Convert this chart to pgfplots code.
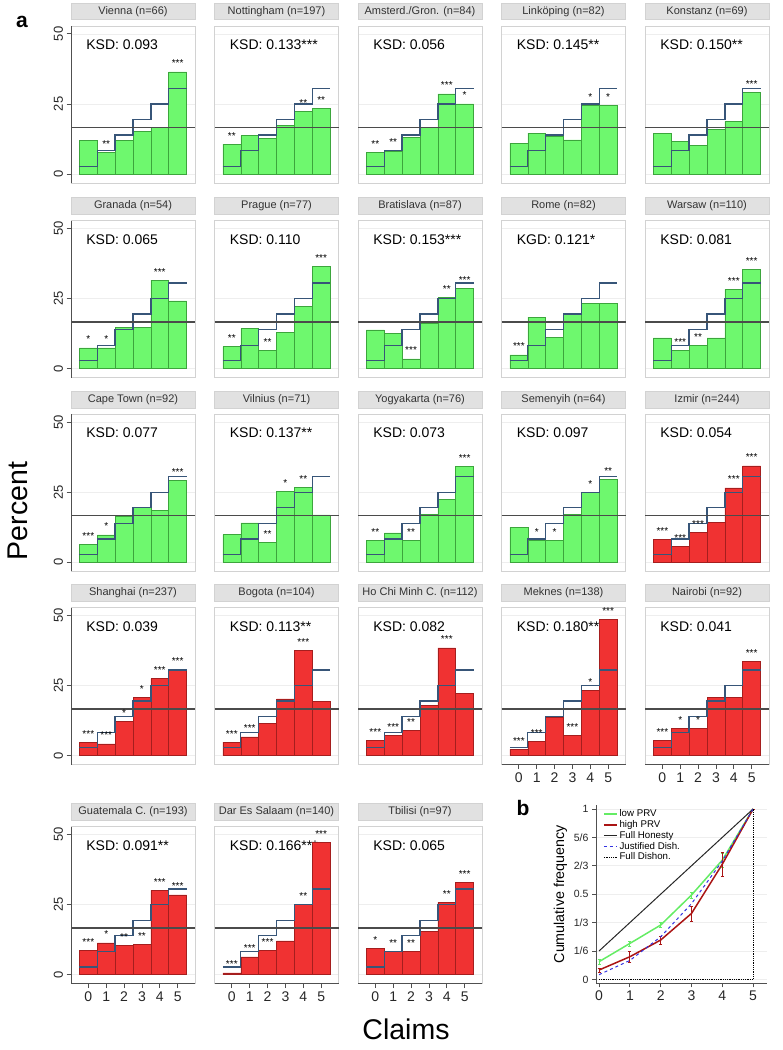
\documentclass[border=0pt]{standalone}
\usepackage{fontspec}
\setmainfont{Liberation Sans}
\usepackage{pgfplots}
\pgfplotsset{compat=1.18}

\definecolor{barg}{RGB}{110,248,110}
\definecolor{bargdark}{RGB}{60,165,60}
\definecolor{barr}{RGB}{240,50,50}
\definecolor{barrdark}{RGB}{165,30,30}
\definecolor{stepc}{RGB}{55,85,120}
\definecolor{refc}{RGB}{75,75,75}
\definecolor{framec}{RGB}{210,210,210}
\definecolor{stripc}{RGB}{225,225,225}
\definecolor{gridc}{RGB}{238,238,238}
\definecolor{darkaxis}{RGB}{80,80,80}
\definecolor{lowg}{RGB}{100,236,100}
\definecolor{highr}{RGB}{170,20,20}
\definecolor{jdblue}{RGB}{50,50,225}

\pgfplotsset{
  panel/.style={
    scale only axis, width=124pt, height=157pt, anchor=north west,
    xmin=-0.97, xmax=5.97, ymin=-3.2, ymax=52.8,
    clip=false,
    axis line style={draw=framec, line width=0.8pt},
    xtick=\empty, ytick={0,25,50}, yticklabels={},
    ymajorgrids, major grid style={gridc, line width=0.6pt},
    ytick style={draw=none}, tick align=outside, tick pos=left, major tick length=4.5pt,
    title style={at={(0.5,1)}, anchor=south, yshift=0pt, fill=stripc, draw=framec,
      line width=0.8pt, minimum width=124pt, minimum height=16.5pt, inner sep=0pt,
      text=black!80, font=\fontsize{11}{12}\selectfont},
  },
  leftcol/.style={
    yticklabels={0,25,50},
    ytick style={draw=darkaxis, line width=0.8pt},
    yticklabel style={rotate=90, anchor=south, font=\fontsize{13}{13}\selectfont, text=black!85},
    after end axis/.append code={\draw[darkaxis, line width=1pt] (rel axis cs:0,0) -- (rel axis cs:0,1);},
  },
  bottomrow/.style={
    xtick={0,1,2,3,4,5}, xticklabels={0,1,2,3,4,5},
    xtick style={draw=darkaxis, line width=0.8pt},
    xticklabel style={font=\fontsize{14}{14}\selectfont, text=black!85},
    after end axis/.append code={\draw[darkaxis, line width=1pt] (rel axis cs:0,0) -- (rel axis cs:1,0);},
  },
}

% #1 extra options, #2 x, #3 y (top of plot area), #4 title, #5 KSD text, #6 g/r, #7 bars
\newcommand{\panel}[7][]{%
  \begin{axis}[panel, at={(#2pt,-#3pt)}, title={#4}, #1]
    \node[anchor=base west, font=\fontsize{14}{14}\selectfont] at (axis cs:-0.31,44.4) {#5};
    \addplot[ybar, bar width=1, bar shift=0pt, fill=bar#6, draw=bar#6dark, line width=0.5pt,
      nodes near coords, point meta=explicit symbolic,
      every node near coord/.append style={anchor=base, yshift=5pt, text=black,
        font=\fontsize{10}{10}\selectfont, inner sep=0pt}]
      coordinates {#7};
    \addplot[const plot, stepc, line width=1.3pt] coordinates {(-0.5,2.78) (0.5,8.33) (1.5,13.89) (2.5,19.44) (3.5,25) (4.5,30.56) (5.5,30.56)};
    \addplot[refc, line width=1.5pt] coordinates {(-0.97,16.67) (5.97,16.67)};
  \end{axis}}

\begin{document}
\begin{tikzpicture}
\useasboundingbox (0,0) rectangle (783pt,-1050pt);

% row 1
\panel[leftcol]{71}{26}{Vienna (n=66)}{KSD: 0.093}{g}{(0,12.1)[] (1,7.6)[**] (2,12.1)[] (3,15.2)[] (4,16.7)[] (5,36.4)[***]}
\panel{214.5}{26}{Nottingham (n=197)}{KSD: 0.133***}{g}{(0,10.7)[**] (1,13.7)[] (2,12.7)[] (3,17.3)[] (4,22.3)[**] (5,23.4)[**]}
\panel{358}{26}{Amsterd./Gron. (n=84)}{KSD: 0.056}{g}{(0,7.8)[**] (1,8.3)[**] (2,13.1)[] (3,16.7)[] (4,28.6)[***] (5,25.0)[*]}
\panel{501.5}{26}{Linköping (n=82)}{KSD: 0.145**}{g}{(0,11.0)[] (1,14.6)[] (2,13.4)[] (3,12.2)[] (4,24.4)[*] (5,24.4)[*]}
\panel{645}{26}{Konstanz (n=69)}{KSD: 0.150**}{g}{(0,14.5)[] (1,11.6)[] (2,10.1)[] (3,15.9)[] (4,18.8)[] (5,29.0)[***]}

% row 2
\panel[leftcol]{71}{220.5}{Granada (n=54)}{KSD: 0.065}{g}{(0,7.4)[*] (1,7.4)[*] (2,14.8)[] (3,14.8)[] (4,31.5)[***] (5,24.1)[]}
\panel{214.5}{220.5}{Prague (n=77)}{KSD: 0.110}{g}{(0,7.8)[**] (1,14.3)[] (2,6.5)[**] (3,13.0)[] (4,22.1)[] (5,36.4)[***]}
\panel{358}{220.5}{Bratislava (n=87)}{KSD: 0.153***}{g}{(0,13.8)[] (1,12.6)[] (2,3.4)[***] (3,16.1)[] (4,25.3)[**] (5,28.7)[***]}
\panel{501.5}{220.5}{Rome (n=82)}{KGD: 0.121*}{g}{(0,4.9)[***] (1,18.3)[] (2,11.0)[] (3,19.5)[] (4,23.2)[] (5,23.2)[]}
\panel{645}{220.5}{Warsaw (n=110)}{KSD: 0.081}{g}{(0,10.9)[] (1,6.4)[***] (2,8.2)[**] (3,10.9)[] (4,28.2)[***] (5,35.5)[***]}

% row 3
\panel[leftcol]{71}{414.3}{Cape Town (n=92)}{KSD: 0.077}{g}{(0,6.5)[***] (1,9.8)[*] (2,16.3)[] (3,19.6)[] (4,18.5)[] (5,29.3)[***]}
\panel{214.5}{414.3}{Vilnius (n=71)}{KSD: 0.137**}{g}{(0,9.9)[] (1,14.1)[] (2,7.0)[**] (3,25.4)[*] (4,26.8)[**] (5,16.9)[]}
\panel{358}{414.3}{Yogyakarta (n=76)}{KSD: 0.073}{g}{(0,7.9)[**] (1,10.5)[] (2,7.9)[**] (3,17.1)[] (4,22.4)[] (5,34.2)[***]}
\panel{501.5}{414.3}{Semenyih (n=64)}{KSD: 0.097}{g}{(0,12.5)[] (1,7.8)[*] (2,7.8)[*] (3,17.2)[] (4,25.0)[*] (5,29.7)[**]}
\panel{645}{414.3}{Izmir (n=244)}{KSD: 0.054}{r}{(0,8.2)[***] (1,5.7)[***] (2,10.7)[***] (3,14.3)[] (4,26.6)[***] (5,34.4)[***]}

% row 4
\panel[leftcol]{71}{607.5}{Shanghai (n=237)}{KSD: 0.039}{r}{(0,4.6)[***] (1,4.2)[***] (2,12.2)[*] (3,20.7)[*] (4,27.4)[***] (5,30.8)[***]}
\panel{214.5}{607.5}{Bogota (n=104)}{KSD: 0.113**}{r}{(0,4.8)[***] (1,6.7)[***] (2,11.5)[] (3,20.2)[] (4,37.5)[***] (5,19.2)[]}
\panel{358}{607.5}{Ho Chi Minh C. (n=112)}{KSD: 0.082}{r}{(0,5.4)[***] (1,7.1)[***] (2,8.9)[**] (3,17.9)[] (4,38.4)[***] (5,22.3)[]}
\panel[bottomrow]{501.5}{607.5}{Meknes (n=138)}{KSD: 0.180***}{r}{(0,2.2)[***] (1,5.1)[***] (2,13.8)[] (3,7.2)[***] (4,23.2)[*] (5,48.6)[***]}
\panel[bottomrow]{645}{607.5}{Nairobi (n=92)}{KSD: 0.041}{r}{(0,5.4)[***] (1,9.8)[*] (2,9.8)[*] (3,20.7)[] (4,20.7)[] (5,33.7)[***]}

% row 5
\panel[leftcol,bottomrow]{71}{826.7}{Guatemala C. (n=193)}{KSD: 0.091**}{r}{(0,8.8)[***] (1,11.4)[*] (2,10.4)[**] (3,10.9)[**] (4,30.1)[***] (5,28.5)[***]}
\panel[bottomrow]{214.5}{826.7}{Dar Es Salaam (n=140)}{KSD: 0.166***}{r}{(0,0.7)[***] (1,6.4)[***] (2,8.6)[***] (3,12.1)[] (4,25.0)[**] (5,47.1)[***]}
\panel[bottomrow]{358}{826.7}{Tbilisi (n=97)}{KSD: 0.065}{r}{(0,9.3)[*] (1,8.2)[**] (2,8.2)[**] (3,15.5)[] (4,25.8)[**] (5,33.0)[***]}

% panel b
\begin{axis}[at={(596pt,-983.3pt)}, anchor=south west, scale only axis,
  width=171pt, height=178.3pt,
  xmin=-0.1, xmax=5.45, ymin=-0.023, ymax=1.023,
  axis x line=bottom, axis y line=left,
  axis line style={darkaxis, line width=0.9pt, -},
  tick align=outside, major tick length=4pt, tick style={darkaxis, line width=0.8pt},
  xtick={0,1,2,3,4,5}, xticklabels={0,1,2,3,4,5},
  xticklabel style={font=\fontsize{14}{14}\selectfont, text=black!85},
  ytick={0,0.16667,0.33333,0.5,0.66667,0.83333,1},
  yticklabels={0,1/6,1/3,0.5,2/3,5/6,1},
  yticklabel style={font=\fontsize{10.5}{10.5}\selectfont, text=black!85},
  ymajorgrids, major grid style={gridc, line width=0.6pt},
  ylabel={Cumulative frequency}, ylabel style={font=\fontsize{14.3}{14.3}\selectfont},
  legend style={at={(0.04,0.985)}, anchor=north west, draw=none, fill=none,
    font=\fontsize{9.7}{10}\selectfont, row sep=-1.8pt, inner sep=0pt},
  legend cell align=left,
  legend image code/.code={\draw[#1] (0pt,0pt) -- (13pt,0pt);},
  clip=false]
\addplot[lowg, line width=1.5pt, error bars/.cd, y dir=both, y explicit,
  error bar style={line width=0.8pt}, error mark options={rotate=90, mark size=1.5pt}]
  coordinates {(0,0.104) +- (0,0.012) (1,0.211) +- (0,0.015) (2,0.319) +- (0,0.015)
               (3,0.495) +- (0,0.018) (4,0.700) +- (0,0.040) (5,1) +- (0,0)};
\addplot[highr, line width=1.5pt, error bars/.cd, y dir=both, y explicit,
  error bar style={line width=0.8pt}, error mark options={rotate=90, mark size=1.5pt}]
  coordinates {(0,0.055) +- (0,0.012) (1,0.133) +- (0,0.032) (2,0.231) +- (0,0.025)
               (3,0.387) +- (0,0.043) (4,0.676) +- (0,0.070) (5,1) +- (0,0)};
\addplot[black!85, line width=1pt] coordinates {(0,0.1667) (1,0.3333) (2,0.5) (3,0.6667) (4,0.8333) (5,1)};
\addplot[jdblue, line width=1pt, dashed] coordinates {(0,0.0278) (1,0.1111) (2,0.25) (3,0.4444) (4,0.6944) (5,1)};
\addplot[black, line width=0.8pt, densely dotted] coordinates {(0,0) (5,0) (5,1)};
\legend{low PRV, high PRV, Full Honesty, Justified Dish., Full Dishon.}
\end{axis}

\node[font=\fontsize{21}{21}\selectfont\bfseries] at (22pt,-21.5pt) {a};
\node[font=\fontsize{21}{21}\selectfont\bfseries] at (523pt,-808pt) {b};
\node[rotate=90, font=\fontsize{28.5}{28.5}\selectfont] at (18pt,-511pt) {Percent};
\node[font=\fontsize{28.5}{28.5}\selectfont] at (406pt,-1029pt) {Claims};
\end{tikzpicture}
\end{document}
